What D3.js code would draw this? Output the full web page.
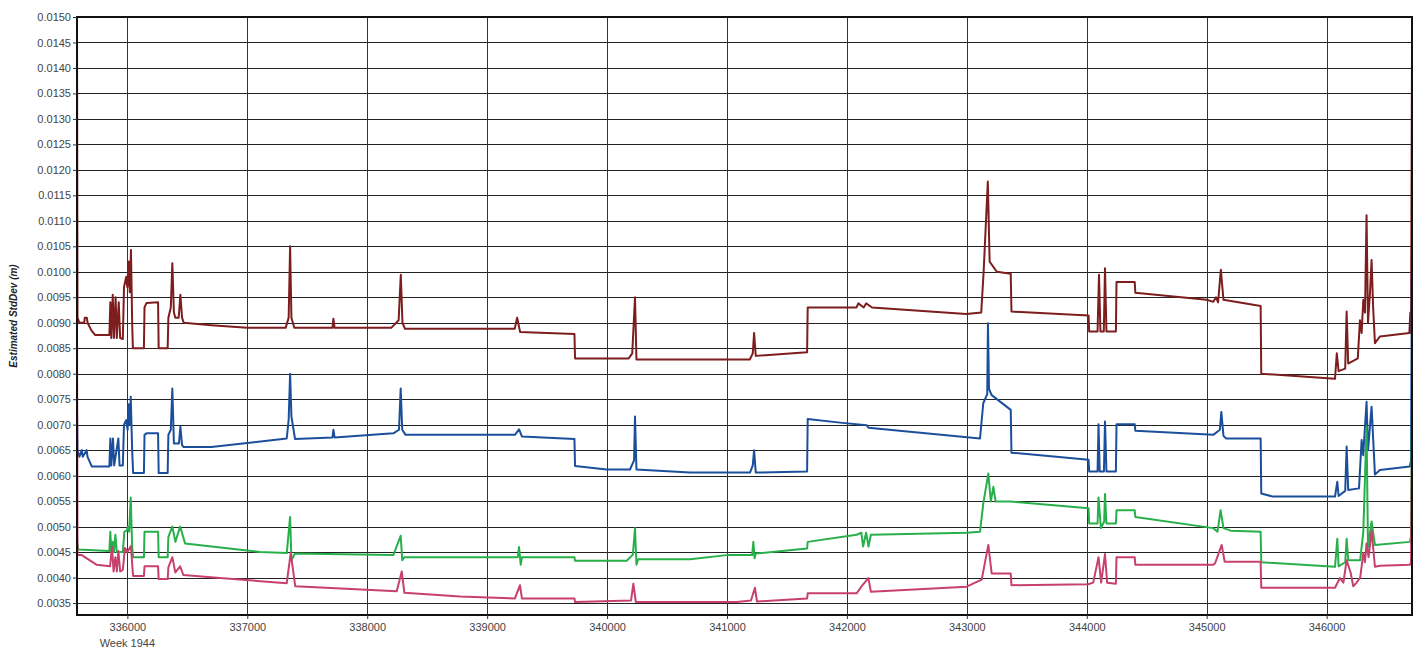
<!DOCTYPE html>
<html>
<head>
<meta charset="utf-8">
<script src="https://cdn.jsdelivr.net/npm/d3@7"></script>
<style>
  body { margin: 0; background: #fff; }
  text { font-family: "Liberation Sans", Arial, sans-serif; }
</style>
</head>
<body>
<svg id="chart"></svg>
<script>
// values: [seconds of week, std dev in m]
var maroonSeries = [
  [335580, 0.0148], [335584, 0.0091], [335600, 0.0090], [335640, 0.0090], [335645, 0.0091], [335662, 0.0091], [335668, 0.0090],
  [335700, 0.00885], [335730, 0.00876], [335850, 0.00876], [335858, 0.0094], [335866, 0.0087], [335878, 0.00955], [335888, 0.0087],
  [335902, 0.0095], [335912, 0.0087], [335928, 0.0094], [335940, 0.0087], [335962, 0.00868], [335972, 0.0097], [335990, 0.0099],
  [336000, 0.0097], [336010, 0.0102], [336020, 0.0096], [336030, 0.01043], [336040, 0.0090], [336046, 0.0085], [336138, 0.0085],
  [336143, 0.0093], [336160, 0.00939], [336256, 0.0094], [336261, 0.0085], [336336, 0.0085], [336342, 0.0091], [336362, 0.0093],
  [336375, 0.01017], [336388, 0.0092], [336400, 0.0091], [336428, 0.0091], [336442, 0.00955], [336456, 0.0091], [336470, 0.0090],
  [336700, 0.00895], [337000, 0.0089], [337320, 0.0089], [337345, 0.0091], [337357, 0.0105], [337368, 0.0091], [337392, 0.0089],
  [337710, 0.0089], [337718, 0.00908], [337728, 0.0089], [338200, 0.0089], [338262, 0.00905], [338280, 0.00994], [338294, 0.0090],
  [338315, 0.00888], [339230, 0.00888], [339250, 0.0091], [339275, 0.00882], [339728, 0.00878], [339733, 0.0083], [340180, 0.0083],
  [340210, 0.0084], [340233, 0.0095], [340245, 0.00828], [341190, 0.00828], [341215, 0.0084], [341226, 0.0088], [341240, 0.00835],
  [341668, 0.00842], [341673, 0.0093], [342080, 0.0093], [342095, 0.00938], [342140, 0.0093], [342160, 0.00938], [342210, 0.0093],
  [342995, 0.00917], [343120, 0.0092], [343140, 0.0100], [343175, 0.01177], [343190, 0.0102], [343250, 0.0100], [343366, 0.00996],
  [343372, 0.00922], [344015, 0.00914], [344020, 0.00883], [344090, 0.00883], [344102, 0.00994], [344114, 0.00883], [344142, 0.00883],
  [344152, 0.01007], [344164, 0.00883], [344243, 0.00883], [344248, 0.0098], [344400, 0.0098], [344405, 0.00959], [345000, 0.00945],
  [345055, 0.00941], [345078, 0.0095], [345095, 0.0094], [345118, 0.01004], [345140, 0.00945], [345450, 0.00933], [345455, 0.0080],
  [346070, 0.0079], [346085, 0.0084], [346100, 0.00805], [346155, 0.0081], [346167, 0.00922], [346180, 0.0082], [346260, 0.0083],
  [346278, 0.00905], [346292, 0.0088], [346306, 0.00945], [346320, 0.0092], [346333, 0.01111], [346345, 0.0090], [346362, 0.0096],
  [346375, 0.01023], [346388, 0.0093], [346403, 0.0086], [346444, 0.00873], [346690, 0.0088], [346698, 0.0092], [346704, 0.0088],
  [346712, 0.0143]
];

var blueSeries = [
  [335580, 0.0073], [335584, 0.0065], [335600, 0.00637], [335620, 0.0065], [335628, 0.00637], [335660, 0.0065], [335668, 0.00637],
  [335703, 0.00618], [335850, 0.00618], [335858, 0.00673], [335866, 0.0062], [335880, 0.00673], [335890, 0.0062], [335925, 0.00673],
  [335935, 0.0062], [335962, 0.0062], [335972, 0.0070], [335990, 0.00709], [336002, 0.0069], [336010, 0.0074], [336020, 0.0070],
  [336028, 0.00755], [336040, 0.0065], [336048, 0.00605], [336138, 0.00605], [336143, 0.0068], [336160, 0.00683], [336256, 0.00683],
  [336261, 0.00605], [336336, 0.00605], [336342, 0.0068], [336362, 0.0069], [336375, 0.00771], [336388, 0.00663], [336430, 0.00663],
  [336442, 0.00696], [336456, 0.0066], [336470, 0.00656], [336700, 0.00656], [337000, 0.00664], [337329, 0.00673], [337345, 0.0071],
  [337357, 0.0080], [337368, 0.00716], [337398, 0.00672], [337710, 0.00675], [337718, 0.0069], [337728, 0.00675], [338218, 0.00683],
  [338265, 0.0069], [338279, 0.00771], [338292, 0.0069], [338320, 0.0068], [339232, 0.0068], [339266, 0.00691], [339290, 0.00677],
  [339728, 0.00672], [339733, 0.00619], [339997, 0.00612], [340191, 0.00612], [340225, 0.0063], [340233, 0.00716], [340245, 0.00612],
  [340692, 0.00606], [341192, 0.00606], [341215, 0.0062], [341226, 0.0065], [341240, 0.00606], [341668, 0.00608], [341673, 0.00711],
  [341942, 0.00704], [342165, 0.00699], [342180, 0.00694], [343110, 0.00673], [343137, 0.00742], [343170, 0.0076], [343176, 0.00899],
  [343185, 0.0077], [343207, 0.00758], [343366, 0.00729], [343372, 0.00645], [344015, 0.00631], [344020, 0.00608], [344090, 0.00608],
  [344098, 0.00701], [344108, 0.00608], [344143, 0.00608], [344152, 0.00706], [344164, 0.00608], [344243, 0.00608], [344248, 0.00701],
  [344400, 0.00701], [344405, 0.00688], [345055, 0.0068], [345110, 0.0069], [345122, 0.00725], [345140, 0.00678], [345160, 0.00673],
  [345450, 0.00673], [345455, 0.00565], [345550, 0.00559], [346070, 0.00559], [346089, 0.00588], [346100, 0.0056], [346155, 0.0057],
  [346167, 0.00657], [346180, 0.00572], [346270, 0.00575], [346292, 0.0067], [346305, 0.0064], [346333, 0.00745], [346345, 0.0065],
  [346375, 0.00735], [346403, 0.00602], [346444, 0.00611], [346694, 0.00618], [346704, 0.0063], [346712, 0.0104]
];

var greenSeries = [
  [335580, 0.0047], [335590, 0.00455], [335850, 0.00452], [335858, 0.0049], [335866, 0.0045], [335878, 0.0047], [335888, 0.0045],
  [335900, 0.00484], [335912, 0.0045], [335962, 0.0045], [335975, 0.0049], [335995, 0.00492], [336005, 0.0050], [336015, 0.0049],
  [336028, 0.00557], [336040, 0.0046], [336048, 0.0044], [336138, 0.0044], [336143, 0.0049], [336256, 0.0049], [336261, 0.0044],
  [336336, 0.0044], [336342, 0.0048], [336375, 0.0050], [336400, 0.0047], [336440, 0.0050], [336481, 0.00467], [337106, 0.0045],
  [337329, 0.00448], [337357, 0.00519], [337368, 0.00434], [337398, 0.00447], [338218, 0.00444], [338279, 0.00482], [338292, 0.00434],
  [338310, 0.0044], [339255, 0.0044], [339266, 0.0046], [339280, 0.00425], [339290, 0.0044], [339728, 0.0044], [339733, 0.00433],
  [340164, 0.00433], [340215, 0.00445], [340233, 0.00497], [340245, 0.00425], [340260, 0.00436], [340692, 0.00436], [340998, 0.00444],
  [341210, 0.00444], [341220, 0.0047], [341230, 0.00438], [341240, 0.00447], [341668, 0.00457], [341673, 0.0047], [342081, 0.00484],
  [342120, 0.00488], [342135, 0.00461], [342160, 0.00488], [342180, 0.00461], [342200, 0.00484], [342998, 0.00488], [343110, 0.0049],
  [343137, 0.00545], [343179, 0.00604], [343200, 0.00549], [343221, 0.00578], [343240, 0.00549], [343366, 0.00549], [344015, 0.00536],
  [344020, 0.00506], [344090, 0.00506], [344098, 0.00557], [344118, 0.00497], [344145, 0.0051], [344152, 0.00564], [344164, 0.00506],
  [344243, 0.00506], [344248, 0.00532], [344400, 0.00532], [344405, 0.00519], [345055, 0.00497], [345090, 0.0049], [345116, 0.00532],
  [345140, 0.00497], [345200, 0.00492], [345450, 0.0049], [345455, 0.0043], [346070, 0.00421], [346089, 0.00476], [346100, 0.00422],
  [346155, 0.0043], [346167, 0.00476], [346180, 0.00434], [346280, 0.00434], [346306, 0.0049], [346333, 0.00696], [346345, 0.0046],
  [346375, 0.0051], [346403, 0.00464], [346694, 0.0047], [346704, 0.0048], [346712, 0.0073]
];

var pinkSeries = [
  [335580, 0.0091], [335584, 0.00444], [335620, 0.00444], [335745, 0.00425], [335856, 0.00422], [335872, 0.0046], [335885, 0.00412],
  [335900, 0.0044], [335912, 0.00412], [335925, 0.00452], [335940, 0.00412], [335962, 0.00415], [335980, 0.00458], [336000, 0.0045],
  [336030, 0.00462], [336042, 0.0042], [336048, 0.00403], [336138, 0.00403], [336143, 0.00422], [336256, 0.00422], [336261, 0.00397],
  [336336, 0.00397], [336342, 0.0042], [336375, 0.0044], [336400, 0.0041], [336440, 0.00422], [336467, 0.00405], [336773, 0.00399],
  [337329, 0.00389], [337362, 0.00448], [337400, 0.00383], [338246, 0.00373], [338288, 0.00412], [338310, 0.0037], [338774, 0.00363],
  [339232, 0.00359], [339274, 0.00385], [339290, 0.00359], [339728, 0.00359], [339733, 0.00352], [340200, 0.00355], [340219, 0.00388],
  [340240, 0.00352], [341081, 0.00352], [341200, 0.00355], [341233, 0.0038], [341250, 0.00353], [341668, 0.00359], [341673, 0.00369],
  [342081, 0.00369], [342120, 0.00382], [342179, 0.00399], [342200, 0.00372], [342998, 0.00382], [343124, 0.00396], [343179, 0.00464],
  [343207, 0.00408], [343366, 0.00408], [343372, 0.00385], [344012, 0.00387], [344054, 0.0039], [344098, 0.0044], [344120, 0.0039],
  [344152, 0.00446], [344170, 0.0039], [344243, 0.00388], [344248, 0.0044], [344400, 0.0044], [344405, 0.00425], [345055, 0.00425],
  [345070, 0.00428], [345125, 0.00464], [345150, 0.00431], [345450, 0.00431], [345455, 0.0038], [346070, 0.0038], [346111, 0.00399],
  [346140, 0.0039], [346167, 0.00434], [346200, 0.0041], [346222, 0.00383], [346250, 0.0039], [346280, 0.0040], [346306, 0.00448],
  [346320, 0.0043], [346333, 0.00467], [346350, 0.0044], [346375, 0.00492], [346403, 0.00421], [346444, 0.00423], [346694, 0.00425],
  [346704, 0.0043], [346712, 0.0066]
];

var xTicks = [336000, 337000, 338000, 339000, 340000, 341000, 342000, 343000, 344000, 345000, 346000];
var yTicks = [0.0035, 0.0040, 0.0045, 0.0050, 0.0055, 0.0060, 0.0065, 0.0070, 0.0075, 0.0080, 0.0085, 0.0090,
  0.0095, 0.0100, 0.0105, 0.0110, 0.0115, 0.0120, 0.0125, 0.0130, 0.0135, 0.0140, 0.0145, 0.0150];

var w = 1416, h = 649;
var margin = { top: 17, right: 4, bottom: 34, left: 77 };
var pw = w - margin.left - margin.right;
var ph = h - margin.top - margin.bottom;

var svg = d3.select("#chart").attr("width", w).attr("height", h);
var g = svg.append("g").attr("transform", "translate(" + margin.left + "," + margin.top + ")");

var x = d3.scaleLinear().domain([335580, 346712]).range([0, pw]);
var y = d3.scaleLinear().domain([0.003265, 0.0150]).range([ph, 0]);

// grid
g.append("g").selectAll("line").data(yTicks).join("line")
  .attr("x1", 0).attr("x2", pw)
  .attr("y1", d => Math.round(y(d)) + 0.5).attr("y2", d => Math.round(y(d)) + 0.5)
  .attr("stroke", "#222").attr("stroke-width", 1);
g.append("g").selectAll("line").data(xTicks).join("line")
  .attr("y1", 0).attr("y2", ph)
  .attr("x1", d => Math.round(x(d)) + 0.5).attr("x2", d => Math.round(x(d)) + 0.5)
  .attr("stroke", "#333").attr("stroke-width", 1);

var line = d3.line().x(d => x(d[0])).y(d => y(d[1]));

var series = [
  { data: maroonSeries, color: "#7d1d1d" },
  { data: blueSeries, color: "#1b4f9c" },
  { data: greenSeries, color: "#27b04a" },
  { data: pinkSeries, color: "#c8406c" }
];

g.append("g").selectAll("path").data(series).join("path")
  .attr("d", d => line(d.data))
  .attr("fill", "none")
  .attr("stroke", d => d.color)
  .attr("stroke-width", 2)
  .attr("stroke-linejoin", "round");

// frame
g.append("rect").attr("x", 0).attr("y", 0).attr("width", pw).attr("height", ph)
  .attr("fill", "none").attr("stroke", "#111").attr("stroke-width", 2);

// axes
var yAxis = d3.axisLeft(y).tickValues(yTicks).tickFormat(d3.format(".4f")).tickSize(4).tickPadding(2);
var yg = g.append("g").call(yAxis);
yg.select(".domain").remove();
yg.selectAll("text").attr("fill", "#444").style("font-size", "11px");
yg.selectAll("line").attr("stroke", "#333");

var xAxis = d3.axisBottom(x).tickValues(xTicks).tickFormat(d3.format("d")).tickSize(4).tickPadding(4);
var xg = g.append("g").attr("transform", "translate(0," + ph + ")").call(xAxis);
xg.select(".domain").remove();
xg.selectAll("text").attr("fill", "#444").style("font-size", "11px");
xg.selectAll("line").attr("stroke", "#333");

g.append("text")
  .attr("x", x(336000)).attr("y", ph + 32)
  .attr("text-anchor", "middle")
  .attr("fill", "#444")
  .style("font-size", "11px")
  .text("Week 1944");

svg.append("text")
  .attr("transform", "translate(17," + (margin.top + ph / 2) + ") rotate(-90)")
  .attr("text-anchor", "middle")
  .attr("fill", "#222")
  .style("font-size", "10px")
  .style("font-weight", "bold")
  .style("font-style", "italic")
  .text("Estimated StdDev (m)");
</script>
</body>
</html>
